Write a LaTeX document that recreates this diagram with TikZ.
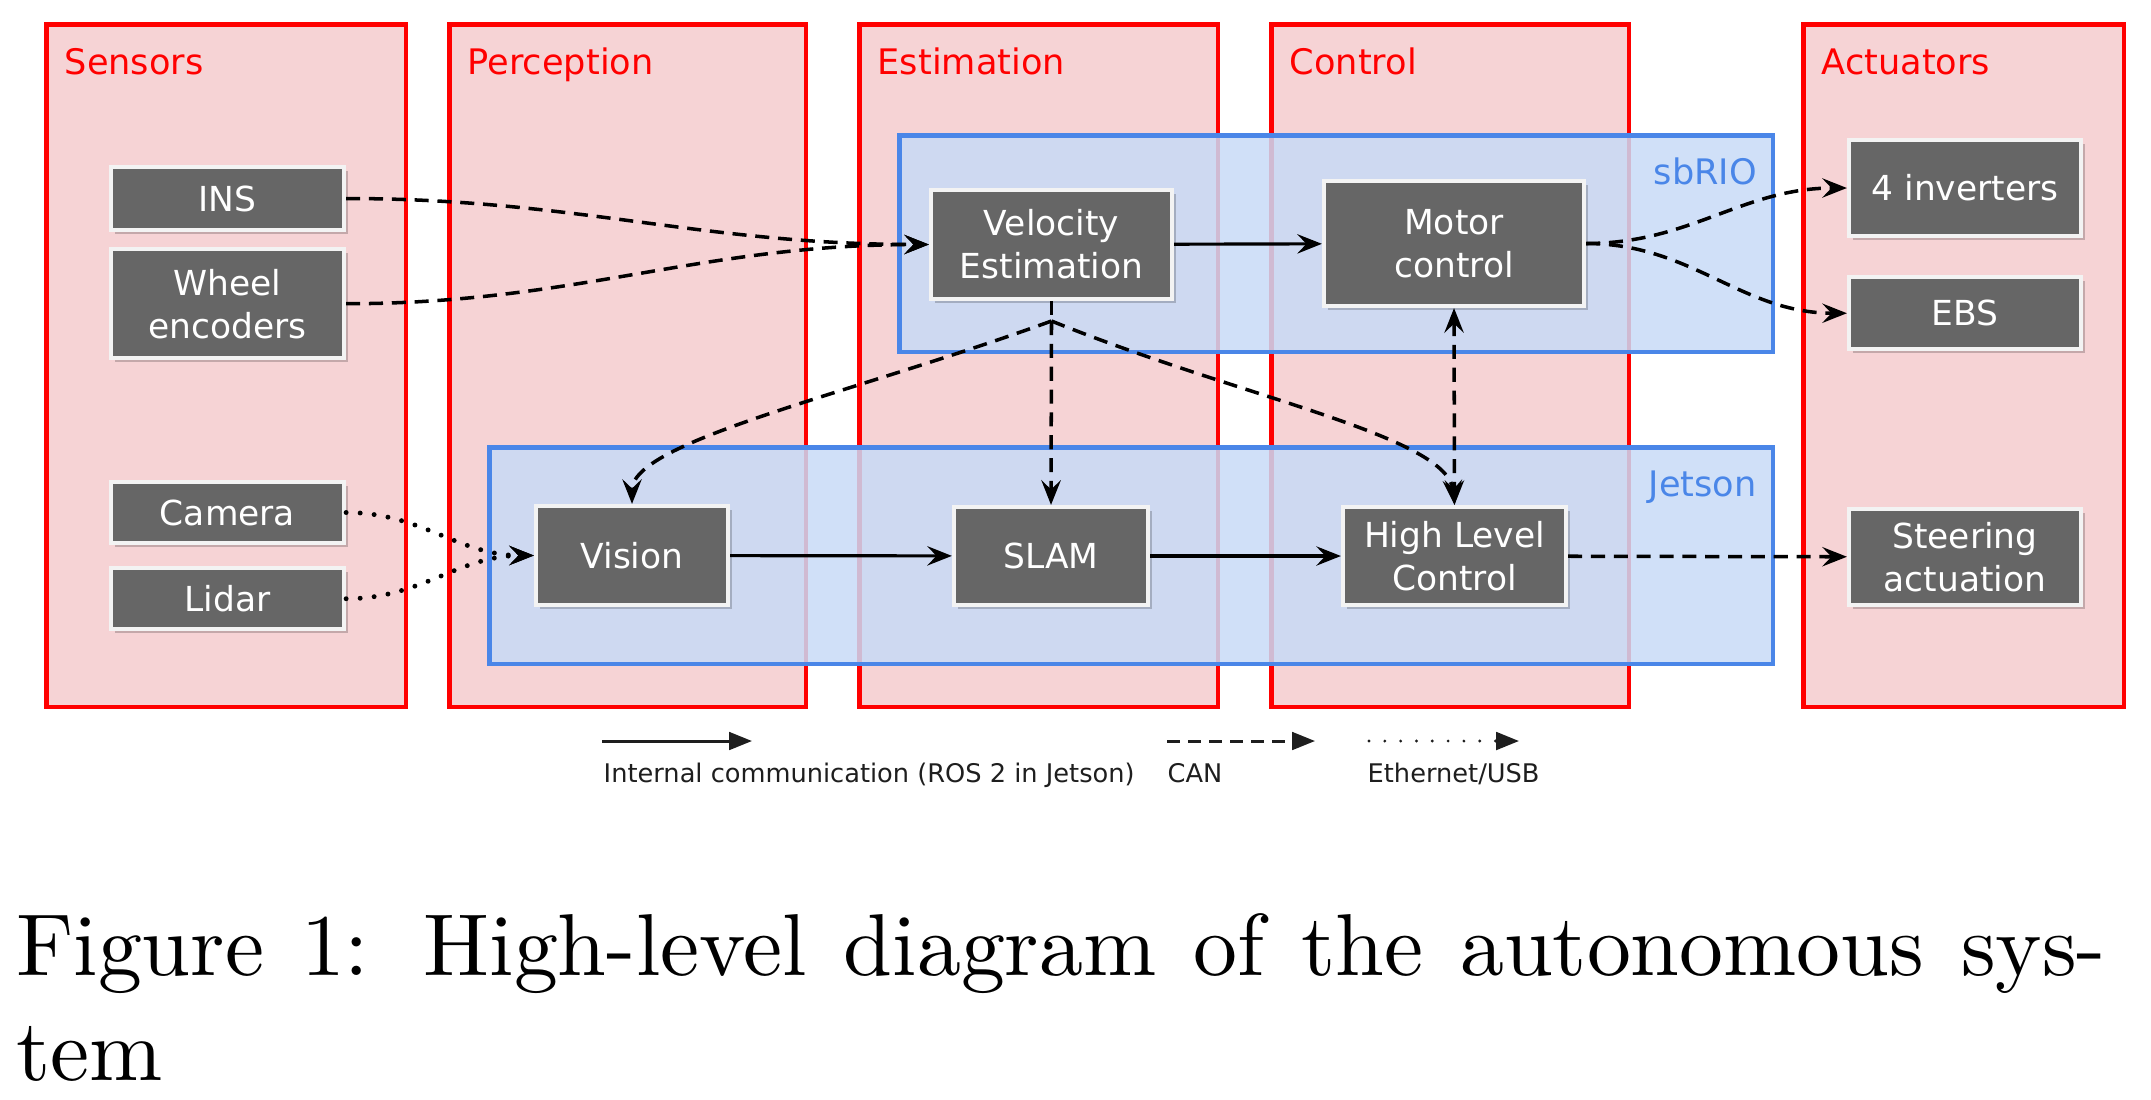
\documentclass[tikz,border=0pt]{standalone}
\usepackage{fontspec}
\setsansfont{DejaVu Sans}
\newfontfamily\capfont{lmroman10-regular.otf}
\usetikzlibrary{arrows.meta,positioning,shadows}
\definecolor{PanelRed}{HTML}{FF0000}
\definecolor{PanelPink}{HTML}{F6D3D5}
\definecolor{HostBlue}{HTML}{4A86E8}
\definecolor{HostFill}{HTML}{C8DBF7}
\definecolor{UnitGray}{HTML}{666666}
\definecolor{UnitRim}{HTML}{F3F3F3}
\definecolor{Ink}{HTML}{1E1E1E}
\begin{document}
\begin{tikzpicture}[
  panel/.style={draw=PanelRed,fill=PanelPink,line width=1.4pt,minimum height=6.825cm,inner sep=0pt},
  paneltitle/.style={anchor=base west,inner sep=0pt,text=PanelRed,font=\sffamily\fontsize{10}{12}\selectfont},
  host/.style={draw=HostBlue,fill=HostFill,fill opacity=0.85,line width=1.4pt,minimum height=2.165cm,inner sep=0pt},
  hosttitle/.style={anchor=base east,inner sep=0pt,text=HostBlue,font=\sffamily\fontsize{10}{12}\selectfont},
  unit/.style={draw=UnitRim,fill=UnitGray,line width=1.2pt,text=white,align=center,inner sep=0pt,font=\sffamily\fontsize{9.8}{12.2}\selectfont,drop shadow={shadow xshift=1pt,shadow yshift=-1.2pt,opacity=0.2,fill=black}},
  tip/.style={-{Stealth[length=7pt,width=5.5pt,inset=2.6pt]}},
  ros/.style={tip,line width=0.9pt,draw=black},
  can/.style={tip,line width=1pt,draw=black,dash pattern=on 4pt off 2.5pt},
  eth/.style={tip,line width=1.4pt,draw=black,line cap=round,dash pattern=on 0pt off 4pt},
  keyros/.style={-{Triangle[length=6.5pt,width=5pt]},line width=0.85pt,draw=Ink},
  keycan/.style={-{Triangle[length=6.5pt,width=5pt]},line width=0.85pt,draw=Ink,dash pattern=on 3.6pt off 2.4pt},
  keyeth/.style={-{Triangle[length=6.5pt,width=5pt]},line width=0.9pt,draw=Ink,line cap=round,dash pattern=on 0pt off 4.5pt},
  keytext/.style={anchor=base west,inner sep=0pt,text=Ink,font=\sffamily\fontsize{7.3}{8.5}\selectfont},
  caption/.style={anchor=base west,inner sep=0pt,text width=20.9cm,align=justify,font=\capfont\fontsize{25}{30}\selectfont}
]
\useasboundingbox (0,0) rectangle (21.51,-10.99);
\node[panel,minimum width=3.595cm] (sensors) at (2.2625,-3.6575) {};
\node[panel,minimum width=3.565cm] (perception) at (6.2775,-3.6575) {};
\node[panel,minimum width=3.585cm] (estimation) at (10.3875,-3.6575) {};
\node[panel,minimum width=3.575cm] (control) at (14.5025,-3.6575) {};
\node[panel,minimum width=3.205cm] (actuators) at (19.6375,-3.6575) {};
\node[paneltitle] (sensorslbl) at ([shift={(0.2,-0.52)}]sensors.north west) {Sensors};
\node[paneltitle] (perceptionlbl) at ([shift={(0.2,-0.52)}]perception.north west) {Perception};
\node[paneltitle] (estimationlbl) at ([shift={(0.2,-0.52)}]estimation.north west) {Estimation};
\node[paneltitle] (controllbl) at ([shift={(0.2,-0.52)}]control.north west) {Control};
\node[paneltitle] (actuatorslbl) at ([shift={(0.2,-0.52)}]actuators.north west) {Actuators};
\node[host,minimum width=8.735cm] (sbrio) at (13.3625,-2.4375) {};
\node[host,minimum width=12.835cm] (jetson) at (11.3125,-5.5575) {};
\node[hosttitle] (sbriolbl) at ([shift={(-0.18,-0.51)}]sbrio.north east) {sbRIO};
\node[hosttitle] (jetsonlbl) at ([shift={(-0.18,-0.51)}]jetson.north east) {Jetson};
\node[unit,minimum width=2.33cm,minimum height=0.63cm] (ins) at (2.275,-1.985) {INS};
\node[unit,minimum width=2.33cm,minimum height=1.09cm,below=0.15cm of ins] (wheel) {Wheel\\encoders};
\node[unit,minimum width=2.33cm,minimum height=0.61cm] (camera) at (2.275,-5.125) {Camera};
\node[unit,minimum width=2.33cm,minimum height=0.61cm,below=0.21cm of camera] (lidar) {Lidar};
\node[unit,minimum width=1.92cm,minimum height=0.99cm] (vision) at (6.32,-5.555) {Vision};
\node[unit,minimum width=2.41cm,minimum height=1.09cm] (velo) at (10.515,-2.445) {Velocity\\Estimation};
\node[unit,minimum width=2.60cm,minimum height=1.25cm] (motor) at (14.54,-2.435) {Motor\\control};
\node[unit,minimum width=1.94cm,minimum height=0.98cm] (slam) at (10.51,-5.56) {SLAM};
\node[unit,minimum width=2.23cm,minimum height=0.98cm] (hlc) at (14.545,-5.56) {High Level\\Control};
\node[unit,minimum width=2.32cm,minimum height=0.96cm] (inv) at (19.65,-1.88) {4 inverters};
\node[unit,minimum width=2.32cm,minimum height=0.72cm,below=0.37cm of inv] (ebs) {EBS};
\node[unit,minimum width=2.32cm,minimum height=0.96cm] (steer) at (19.65,-5.57) {Steering\\actuation};
\coordinate (split) at (10.515,-3.21);
\draw[can] (ins.east) to[out=0,in=180] (velo.west);
\draw[can] (wheel.east) to[out=0,in=180] (velo.west);
\draw[eth] (camera.east) to[out=0,in=180] (vision.west);
\draw[eth] (lidar.east) to[out=0,in=180] (vision.west);
\draw[ros] (velo) -- (motor);
\draw[ros] (vision) -- (slam);
\draw[ros] (slam) -- (hlc);
\draw[can,-] (velo.south) -- (split);
\draw[can] (split) to[out=-160,in=90,out looseness=1.2,in looseness=0.35] (vision.north);
\draw[can] (split) -- (slam.north);
\draw[can] (split) to[out=-22,in=95,out looseness=1.2,in looseness=0.4] (hlc.north);
\draw[can,{Stealth[length=7pt,width=5.5pt,inset=2.6pt]}-{Stealth[length=7pt,width=5.5pt,inset=2.6pt]}] (motor.south) -- (hlc.north);
\draw[can] (motor.east) to[out=0,in=180] (inv.west);
\draw[can] (motor.east) to[out=0,in=180] (ebs.west);
\draw[can] (hlc) -- (steer);
\coordinate (rosfrom) at (6.02,-7.41);
\coordinate (rosto) at (7.52,-7.41);
\coordinate (canfrom) at (11.67,-7.41);
\coordinate (canto) at (13.15,-7.41);
\coordinate (ethfrom) at (13.69,-7.41);
\coordinate (ethto) at (15.19,-7.41);
\draw[keyros] (rosfrom) -- (rosto);
\draw[keycan] (canfrom) -- (canto);
\draw[keyeth] (ethfrom) -- (ethto);
\node[keytext] (roskey) at (6.03,-7.82) {Internal communication (ROS 2 in Jetson)};
\node[keytext] (cankey) at (11.67,-7.82) {CAN};
\node[keytext] (ethkey) at (13.67,-7.82) {Ethernet/USB};
\node[caption] (figcap) at (0.155,-9.75) {Figure 1: High-level diagram of the autonomous sys-\linebreak tem};
\end{tikzpicture}
\end{document}
